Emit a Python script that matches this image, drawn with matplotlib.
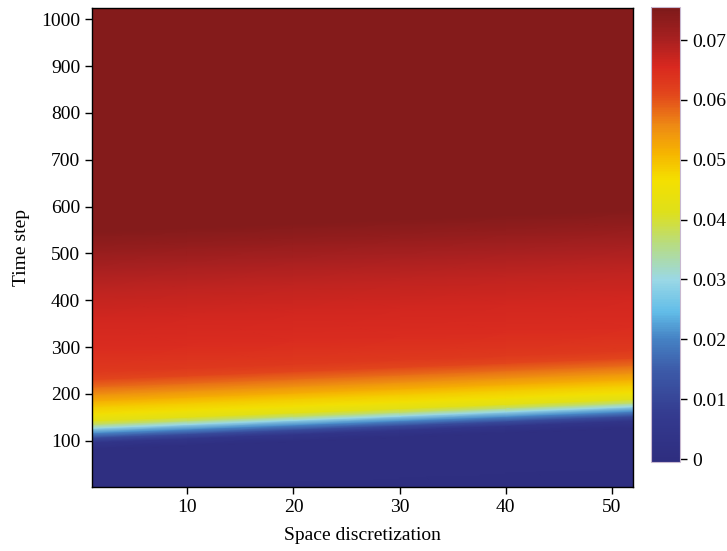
import numpy as np
import matplotlib
matplotlib.use("Agg")
import matplotlib.pyplot as plt
from matplotlib.colors import LinearSegmentedColormap

plt.rcParams['font.family'] = ['Liberation Serif', 'DejaVu Serif']

# front position (time step where the value passes ~0.03) read at a few x positions
x_nodes = [1, 10, 20, 30, 40, 52]
front_y = [127, 135, 144, 153, 162, 173]

# value profile measured upward from the front (offset in time steps -> value)
offsets = [-400, -45, -30, -20, -10, 0, 8, 16, 30, 46, 58, 72, 88, 104, 120, 170, 230, 290, 340, 380, 420, 1000]
values = [0.0, 0.0005, 0.005, 0.012, 0.021, 0.030, 0.037, 0.042, 0.046, 0.049, 0.052, 0.055, 0.058, 0.061, 0.063, 0.065, 0.066, 0.068, 0.070, 0.0725, 0.0745, 0.0745]

cbar_ticks = [0, 0.01, 0.02, 0.03, 0.04, 0.05, 0.06, 0.07]
cbar_labels = ['0', '0.01', '0.02', '0.03', '0.04', '0.05', '0.06', '0.07']
y_ticks = [100, 200, 300, 400, 500, 600, 700, 800, 900, 1000]
x_ticks = [10, 20, 30, 40, 50]

# jet-like map in printed tones, sampled from the reference colorbar
cmap = LinearSegmentedColormap.from_list('printjet', [
    (0.00, '#2e2d7f'),
    (0.10, '#343a8f'),
    (0.20, '#3c5aa8'),
    (0.27, '#4582c4'),
    (0.33, '#62bde8'),
    (0.40, '#9ad8e6'),
    (0.48, '#b8dc80'),
    (0.55, '#dfe01a'),
    (0.62, '#f4e000'),
    (0.68, '#f6b400'),
    (0.74, '#ee8a14'),
    (0.81, '#e2461c'),
    (0.87, '#d9281f'),
    (0.93, '#a82020'),
    (1.00, '#7d1a1a'),
])

X = np.tile(np.array(x_nodes, dtype=float), (len(offsets), 1))
Y = np.array(front_y, dtype=float)[None, :] + np.array(offsets, dtype=float)[:, None]
C = np.tile(np.array(values)[:, None], (1, len(x_nodes)))

fig = plt.figure(figsize=(7.27, 5.51), dpi=100)
ax = fig.add_axes([0.1265, 0.116, 0.744, 0.8695])
cax = fig.add_axes([0.8955, 0.1615, 0.040, 0.8255])

mesh = ax.pcolormesh(X, Y, C, shading='gouraud', cmap=cmap, vmin=-0.0005, vmax=0.0755)
ax.set_xlim(1, 52)
ax.set_ylim(1, 1024)
ax.set_xticks(x_ticks)
ax.set_yticks(y_ticks)
ax.tick_params(direction='out', length=5, width=1, labelsize=14)
for s in ax.spines.values():
    s.set_linewidth(1.0)
ax.set_xlabel('Space discretization', fontsize=14, labelpad=8)
ax.set_ylabel('Time step', fontsize=14, labelpad=8)

cb = fig.colorbar(mesh, cax=cax)
cb.set_ticks(cbar_ticks)
cb.set_ticklabels(cbar_labels)
cb.ax.tick_params(direction='out', length=5, width=1, labelsize=14)
cb.outline.set_edgecolor('#c8b8d0')
cb.outline.set_linewidth(0.8)

fig.savefig('out.png', dpi=100)
